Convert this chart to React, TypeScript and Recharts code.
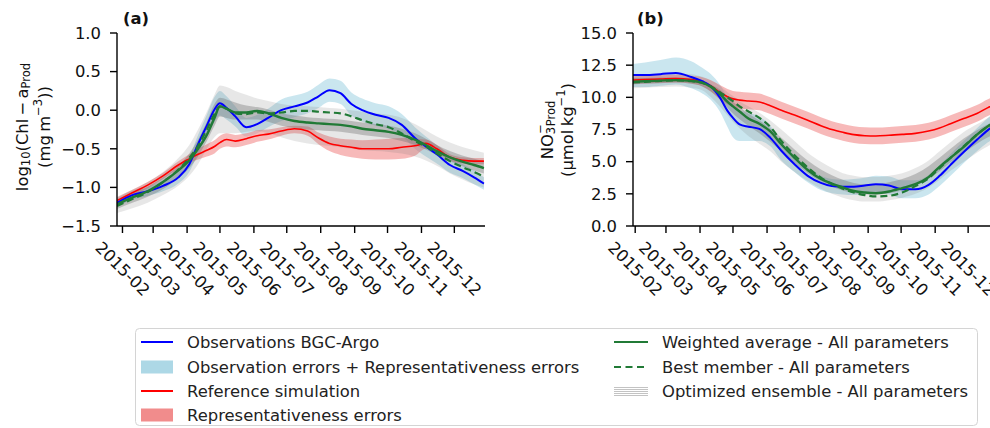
import React from "react";
import { ComposedChart, Line, Area, XAxis, YAxis } from "recharts";

const FONT = "'DejaVu Sans', 'Liberation Sans', sans-serif";
const FS = 16.4;

// Month tick labels shared by both panels
const monthTicks = [
  "2015-02", "2015-03", "2015-04", "2015-05", "2015-06", "2015-07",
  "2015-08", "2015-09", "2015-10", "2015-11", "2015-12",
];

// Sampling dates of the chlorophyll panel (a)
const datesChl = [
  "2015-01-27", "2015-02-10", "2015-02-24", "2015-03-10", "2015-03-24", "2015-04-03",
  "2015-04-11", "2015-04-19", "2015-04-26", "2015-05-01", "2015-05-07", "2015-05-15",
  "2015-05-25", "2015-06-04", "2015-06-14", "2015-06-26", "2015-07-08", "2015-07-20",
  "2015-07-30", "2015-08-09", "2015-08-19", "2015-08-29", "2015-09-08", "2015-09-20",
  "2015-10-02", "2015-10-14", "2015-10-26", "2015-11-05", "2015-11-15", "2015-11-27",
  "2015-12-09", "2015-12-19", "2015-12-28",
];

// Sampling dates of the nitrate panel (b)
const datesNo3 = [
  "2015-01-30", "2015-02-10", "2015-02-24", "2015-03-10", "2015-03-24", "2015-04-03",
  "2015-04-11", "2015-04-19", "2015-04-26", "2015-05-01", "2015-05-07", "2015-05-15",
  "2015-05-25", "2015-06-04", "2015-06-14", "2015-06-26", "2015-07-08", "2015-07-20",
  "2015-07-30", "2015-08-09", "2015-08-19", "2015-08-29", "2015-09-08", "2015-09-20",
  "2015-10-02", "2015-10-14", "2015-10-26", "2015-11-05", "2015-11-15", "2015-11-27",
  "2015-12-09", "2015-12-19", "2015-12-28",
];

// (a) log10 Chl-a
const chlObs = [-1.20, -1.10, -1.05, -0.98, -0.87, -0.70, -0.44, -0.20, 0.01, 0.09, 0.03, -0.08, -0.22, -0.18, -0.10, 0.00, 0.05, 0.10, 0.18, 0.26, 0.22, 0.08, 0.00, -0.06, -0.10, -0.19, -0.36, -0.47, -0.57, -0.71, -0.79, -0.87, -0.95];
const chlObsLo = [-1.25, -1.16, -1.11, -1.05, -0.95, -0.80, -0.56, -0.34, -0.15, -0.07, -0.12, -0.21, -0.34, -0.30, -0.22, -0.14, -0.09, -0.04, 0.03, 0.11, 0.08, -0.07, -0.15, -0.20, -0.24, -0.33, -0.50, -0.60, -0.69, -0.81, -0.88, -0.96, -1.03];
const chlObsHi = [-1.15, -1.04, -0.99, -0.91, -0.79, -0.60, -0.32, -0.06, 0.17, 0.25, 0.18, 0.05, -0.10, -0.06, 0.02, 0.14, 0.19, 0.24, 0.33, 0.41, 0.38, 0.23, 0.15, 0.09, 0.05, -0.05, -0.22, -0.34, -0.45, -0.61, -0.70, -0.78, -0.87];
const chlRef = [-1.17, -1.07, -0.97, -0.85, -0.71, -0.63, -0.57, -0.52, -0.47, -0.42, -0.38, -0.40, -0.37, -0.33, -0.31, -0.27, -0.24, -0.27, -0.36, -0.43, -0.46, -0.48, -0.50, -0.50, -0.50, -0.48, -0.46, -0.43, -0.50, -0.61, -0.65, -0.66, -0.66];
const chlRefLo = [-1.21, -1.11, -1.01, -0.89, -0.76, -0.68, -0.64, -0.60, -0.56, -0.50, -0.47, -0.48, -0.45, -0.41, -0.38, -0.33, -0.30, -0.33, -0.44, -0.53, -0.58, -0.61, -0.63, -0.64, -0.64, -0.63, -0.59, -0.50, -0.55, -0.65, -0.69, -0.70, -0.70];
const chlRefHi = [-1.13, -1.03, -0.93, -0.81, -0.66, -0.57, -0.50, -0.44, -0.39, -0.33, -0.30, -0.32, -0.30, -0.26, -0.25, -0.22, -0.20, -0.21, -0.29, -0.34, -0.37, -0.38, -0.39, -0.38, -0.37, -0.36, -0.37, -0.38, -0.45, -0.57, -0.61, -0.62, -0.62];
const chlWeighted = [-1.22, -1.13, -1.05, -0.93, -0.78, -0.65, -0.50, -0.32, -0.10, 0.05, 0.02, -0.03, -0.03, -0.01, -0.04, -0.10, -0.14, -0.16, -0.17, -0.18, -0.19, -0.21, -0.24, -0.26, -0.28, -0.32, -0.38, -0.45, -0.53, -0.61, -0.67, -0.71, -0.75];
const chlBest = [-1.24, -1.15, -1.06, -0.93, -0.77, -0.62, -0.46, -0.25, -0.05, 0.05, 0.02, -0.04, -0.05, -0.03, -0.04, -0.03, -0.01, -0.01, -0.02, -0.03, -0.04, -0.08, -0.13, -0.18, -0.22, -0.30, -0.40, -0.47, -0.56, -0.66, -0.74, -0.80, -0.86];
const chlEnsOuterLo = [-1.33, -1.27, -1.20, -1.10, -0.98, -0.85, -0.70, -0.50, -0.35, -0.30, -0.30, -0.30, -0.28, -0.27, -0.30, -0.35, -0.40, -0.43, -0.45, -0.46, -0.48, -0.50, -0.52, -0.53, -0.54, -0.56, -0.60, -0.65, -0.72, -0.82, -0.90, -0.96, -1.00];
const chlEnsOuterHi = [-1.12, -1.03, -0.93, -0.80, -0.62, -0.45, -0.25, -0.02, 0.20, 0.32, 0.30, 0.25, 0.20, 0.15, 0.12, 0.08, 0.06, 0.05, 0.04, 0.03, 0.02, 0.00, -0.02, -0.04, -0.06, -0.10, -0.18, -0.26, -0.34, -0.42, -0.48, -0.52, -0.55];
const chlEnsInnerLo = [-1.28, -1.20, -1.12, -1.02, -0.88, -0.75, -0.60, -0.40, -0.20, -0.08, -0.10, -0.12, -0.12, -0.12, -0.15, -0.20, -0.23, -0.25, -0.26, -0.27, -0.28, -0.30, -0.32, -0.34, -0.36, -0.40, -0.45, -0.51, -0.58, -0.66, -0.73, -0.78, -0.82];
const chlEnsInnerHi = [-1.17, -1.08, -0.99, -0.87, -0.72, -0.56, -0.38, -0.15, 0.08, 0.16, 0.14, 0.10, 0.06, 0.04, 0.01, -0.04, -0.07, -0.09, -0.10, -0.11, -0.12, -0.14, -0.16, -0.18, -0.20, -0.24, -0.30, -0.37, -0.45, -0.53, -0.59, -0.63, -0.66];

// (b) nitrate
const no3Obs = [11.73, 11.73, 11.80, 11.90, 11.58, 11.25, 10.85, 10.00, 8.95, 8.40, 7.90, 7.72, 7.55, 6.85, 5.85, 4.80, 3.90, 3.35, 3.10, 3.05, 3.05, 3.15, 3.25, 3.15, 2.85, 2.85, 3.20, 3.90, 4.75, 5.75, 6.70, 7.45, 8.00];
const no3ObsLo = [10.8, 10.8, 10.9, 11.0, 10.7, 10.3, 9.8, 8.9, 7.7, 6.9, 6.6, 6.6, 6.6, 6.2, 5.1, 4.2, 3.4, 2.8, 2.55, 2.45, 2.4, 2.5, 2.55, 2.45, 2.15, 2.15, 2.45, 3.1, 3.9, 4.9, 5.8, 6.5, 7.0];
const no3ObsHi = [12.6, 12.7, 12.9, 13.1, 12.8, 12.3, 11.8, 11.0, 10.0, 9.4, 9.0, 8.8, 8.5, 7.8, 6.5, 5.5, 4.6, 3.9, 3.65, 3.6, 3.65, 3.75, 3.9, 3.85, 3.55, 3.55, 3.95, 4.7, 5.6, 6.6, 7.6, 8.4, 9.0];
const no3Ref = [11.34, 11.38, 11.42, 11.46, 11.38, 11.22, 10.88, 10.40, 10.05, 9.88, 9.78, 9.72, 9.64, 9.35, 9.00, 8.62, 8.22, 7.80, 7.50, 7.28, 7.10, 7.02, 7.00, 7.05, 7.12, 7.20, 7.38, 7.62, 7.95, 8.35, 8.75, 9.20, 9.50];
const no3RefLo = [11.04, 11.08, 11.12, 11.16, 11.08, 10.87, 10.43, 9.85, 9.45, 9.26, 9.13, 9.07, 8.99, 8.70, 8.35, 7.97, 7.57, 7.15, 6.85, 6.63, 6.45, 6.37, 6.35, 6.40, 6.47, 6.55, 6.73, 6.97, 7.30, 7.70, 8.10, 8.55, 8.85];
const no3RefHi = [11.64, 11.68, 11.72, 11.76, 11.68, 11.57, 11.33, 10.95, 10.65, 10.50, 10.43, 10.37, 10.29, 10.00, 9.65, 9.27, 8.87, 8.45, 8.15, 7.93, 7.75, 7.67, 7.65, 7.70, 7.77, 7.85, 8.03, 8.27, 8.60, 9.00, 9.40, 9.85, 10.15];
const no3Weighted = [11.21, 11.25, 11.30, 11.34, 11.28, 11.15, 10.80, 10.27, 9.65, 9.30, 8.90, 8.35, 7.95, 7.35, 6.35, 5.30, 4.35, 3.65, 3.30, 3.00, 2.72, 2.60, 2.55, 2.68, 2.95, 3.25, 3.80, 4.60, 5.30, 6.15, 7.10, 7.75, 8.20];
const no3Best = [11.15, 11.20, 11.28, 11.32, 11.25, 11.12, 10.85, 10.40, 10.00, 9.70, 9.30, 8.90, 8.40, 7.70, 6.60, 5.50, 4.55, 3.75, 3.25, 2.90, 2.60, 2.40, 2.30, 2.35, 2.60, 3.10, 3.70, 4.50, 5.30, 6.20, 7.10, 7.75, 8.20];
const no3EnsOuterLo = [10.7, 10.75, 10.8, 10.85, 10.75, 10.55, 10.0, 9.3, 8.6, 8.1, 7.6, 7.0, 6.4, 5.8, 5.0, 4.2, 3.5, 2.9, 2.5, 2.2, 2.0, 1.9, 1.9, 2.0, 2.2, 2.5, 3.0, 3.6, 4.3, 5.0, 5.7, 6.2, 6.6];
const no3EnsOuterHi = [11.8, 11.8, 11.85, 11.85, 11.8, 11.6, 11.3, 10.9, 10.4, 10.1, 9.7, 9.3, 8.8, 8.2, 7.5, 6.6, 5.7, 5.0, 4.5, 4.1, 3.9, 3.8, 3.8, 3.9, 4.1, 4.5, 5.1, 5.8, 6.5, 7.3, 7.9, 8.4, 8.8];
const no3EnsInnerLo = [11.0, 11.05, 11.1, 11.15, 11.05, 10.85, 10.45, 9.85, 9.2, 8.75, 8.3, 7.8, 7.2, 6.55, 5.8, 4.9, 4.1, 3.45, 3.05, 2.75, 2.55, 2.45, 2.45, 2.55, 2.75, 3.1, 3.65, 4.25, 4.95, 5.7, 6.4, 6.9, 7.25];
const no3EnsInnerHi = [11.5, 11.5, 11.55, 11.55, 11.5, 11.35, 11.0, 10.6, 10.05, 9.65, 9.25, 8.75, 8.2, 7.6, 6.85, 5.95, 5.1, 4.4, 3.95, 3.6, 3.35, 3.25, 3.25, 3.4, 3.65, 4.05, 4.65, 5.3, 6.0, 6.8, 7.45, 7.9, 8.25];

const chlTicks = [-1.5, -1.0, -0.5, 0.0, 0.5, 1.0];
const no3Ticks = [0, 2.5, 5, 7.5, 10, 12.5, 15];

const COLORS = {
  obs: "#0000ff",
  obsBand: "#add8e6",
  ref: "#ff0000",
  refBand: "#f08080",
  green: "#217a36",
  ens: "#6e6e6e",
};

const dayOf = (s: string) =>
  Math.round((Date.parse(s) - Date.parse("2015-01-01")) / 86400000);

const tickDays = monthTicks.map((m) => dayOf(`${m}-01`));

type Series = {
  obs: number[]; obsLo: number[]; obsHi: number[];
  ref: number[]; refLo: number[]; refHi: number[];
  weighted: number[]; best: number[];
  outerLo: number[]; outerHi: number[]; innerLo: number[]; innerHi: number[];
};

function buildRows(dates: string[], s: Series) {
  return dates.map((d, i) => ({
    day: dayOf(d),
    ensOuter: [s.outerLo[i], s.outerHi[i]],
    ensInner: [s.innerLo[i], s.innerHi[i]],
    obsBand: [s.obsLo[i], s.obsHi[i]],
    refBand: [s.refLo[i], s.refHi[i]],
    obs: s.obs[i],
    ref: s.ref[i],
    weighted: s.weighted[i],
    best: s.best[i],
  }));
}

const rowsChl = buildRows(datesChl, {
  obs: chlObs, obsLo: chlObsLo, obsHi: chlObsHi,
  ref: chlRef, refLo: chlRefLo, refHi: chlRefHi,
  weighted: chlWeighted, best: chlBest,
  outerLo: chlEnsOuterLo, outerHi: chlEnsOuterHi, innerLo: chlEnsInnerLo, innerHi: chlEnsInnerHi,
});

const rowsNo3 = buildRows(datesNo3, {
  obs: no3Obs, obsLo: no3ObsLo, obsHi: no3ObsHi,
  ref: no3Ref, refLo: no3RefLo, refHi: no3RefHi,
  weighted: no3Weighted, best: no3Best,
  outerLo: no3EnsOuterLo, outerHi: no3EnsOuterHi, innerLo: no3EnsInnerLo, innerHi: no3EnsInnerHi,
});

const fmtY = (v: number) => v.toFixed(1).replace("-", "\u2212");

function DateTick(props: any) {
  const { x, y, payload } = props;
  const idx = tickDays.indexOf(payload.value);
  const label = idx >= 0 ? monthTicks[idx] : "";
  const cy = y + 34;
  return (
    <text
      x={x}
      y={cy}
      transform={`rotate(45 ${x} ${cy})`}
      textAnchor="middle"
      dominantBaseline="central"
      fontSize={FS}
      fontFamily={FONT}
      fill="#111"
    >
      {label}
    </text>
  );
}

const axisStroke = { stroke: "#000", strokeWidth: 1.4 };

function Panel({
  rows, domain, yDomain, yTicks, width,
}: {
  rows: any[]; domain: [number, number]; yDomain: [number, number]; yTicks: number[]; width: number;
}) {
  return (
    <ComposedChart
      width={width}
      height={310}
      data={rows}
      margin={{ top: 33, right: 15, left: 0, bottom: 0 }}
    >
      <XAxis
        dataKey="day"
        type="number"
        domain={domain}
        allowDataOverflow
        ticks={tickDays}
        interval={0}
        tick={<DateTick />}
        tickSize={7}
        axisLine={axisStroke}
        tickLine={axisStroke}
        height={84}
      />
      <YAxis
        type="number"
        domain={yDomain}
        allowDataOverflow
        ticks={yTicks}
        interval={0}
        width={117}
        tickSize={7}
        tickMargin={9}
        tickFormatter={fmtY}
        tick={{ fill: "#111", fontSize: FS, fontFamily: FONT }}
        axisLine={axisStroke}
        tickLine={axisStroke}
      />
      <Area dataKey="obsBand" type="monotone" stroke="none" fill={COLORS.obsBand} fillOpacity={0.65} isAnimationActive={false} />
      <Area dataKey="refBand" type="monotone" stroke="none" fill={COLORS.refBand} fillOpacity={0.55} isAnimationActive={false} />
      <Area dataKey="ensOuter" type="monotone" stroke="none" fill={COLORS.ens} fillOpacity={0.17} isAnimationActive={false} />
      <Area dataKey="ensInner" type="monotone" stroke="none" fill={COLORS.ens} fillOpacity={0.36} isAnimationActive={false} />
      <Line dataKey="ref" type="monotone" stroke={COLORS.ref} strokeWidth={1.6} dot={false} isAnimationActive={false} />
      <Line dataKey="obs" type="monotone" stroke={COLORS.obs} strokeWidth={2} dot={false} isAnimationActive={false} />
      <Line dataKey="weighted" type="monotone" stroke={COLORS.green} strokeWidth={2.4} dot={false} isAnimationActive={false} />
      <Line dataKey="best" type="monotone" stroke={COLORS.green} strokeWidth={2.2} strokeDasharray="7 4" dot={false} isAnimationActive={false} />
    </ComposedChart>
  );
}

const SUB = 11.5;

function Legend() {
  const rowY = [342, 367, 391, 415];
  const x1 = 141, x2 = 173, t1 = 187;
  const c1 = 614, c2 = 648, t2 = 662;
  const txt = { fontSize: FS, fontFamily: FONT, fill: "#222", dominantBaseline: "central" as const };
  return (
    <g>
      <rect x={135.5} y={328.5} width={842} height={97} rx={4} fill="#fff" stroke="#d4d4d4" strokeWidth={1} />
      <line x1={x1} x2={x2} y1={rowY[0]} y2={rowY[0]} stroke={COLORS.obs} strokeWidth={2} />
      <text x={t1} y={rowY[0]} {...txt}>Observations BGC-Argo</text>
      <rect x={x1} y={rowY[1] - 6.5} width={x2 - x1} height={13} fill={COLORS.obsBand} />
      <text x={t1} y={rowY[1]} {...txt}>Observation errors + Representativeness errors</text>
      <line x1={x1} x2={x2} y1={rowY[2]} y2={rowY[2]} stroke={COLORS.ref} strokeWidth={2} />
      <text x={t1} y={rowY[2]} {...txt}>Reference simulation</text>
      <rect x={x1} y={rowY[3] - 6.5} width={x2 - x1} height={13} fill={COLORS.refBand} fillOpacity={0.9} />
      <text x={t1} y={rowY[3]} {...txt}>Representativeness errors</text>

      <line x1={c1} x2={c2} y1={rowY[0]} y2={rowY[0]} stroke={COLORS.green} strokeWidth={2.2} />
      <text x={t2} y={rowY[0]} {...txt}>Weighted average - All parameters</text>
      <line x1={c1} x2={c2} y1={rowY[1]} y2={rowY[1]} stroke={COLORS.green} strokeWidth={2.2} strokeDasharray="7 4.5" />
      <text x={t2} y={rowY[1]} {...txt}>Best member - All parameters</text>
      {[-4, -2, 0, 2, 4].map((d) => (
        <line key={d} x1={c1} x2={c2} y1={rowY[2] + d + 0.5} y2={rowY[2] + d + 0.5} stroke="#b4b4b4" strokeWidth={0.8} />
      ))}
      <text x={t2} y={rowY[2]} {...txt}>Optimized ensemble - All parameters</text>
    </g>
  );
}

function Labels() {
  const base = { fontSize: FS, fontFamily: FONT, fill: "#111", textAnchor: "middle" as const, dominantBaseline: "central" as const };
  return (
    <g>
      <text x={123} y={24} fontSize={FS} fontFamily={FONT} fontWeight="bold" fill="#111">(a)</text>
      <text x={637} y={24} fontSize={FS} fontFamily={FONT} fontWeight="bold" fill="#111">(b)</text>

      <text transform="translate(22,127) rotate(-90)" {...base}>
        log<tspan dy={4} fontSize={SUB}>10</tspan>
        <tspan dy={-4}>(Chl{"\u2009\u2212\u2009"}a</tspan>
        <tspan dy={4} fontSize={SUB}>Prod</tspan>
      </text>
      <text transform="translate(44,127) rotate(-90)" {...base}>
        (mg{"\u2009"}m<tspan dy={-6} fontSize={SUB}>{"\u22123"}</tspan>
        <tspan dy={6}>))</tspan>
      </text>

      <text transform="translate(547,130) rotate(-90)" {...base}>
        NO<tspan dy={4} fontSize={SUB}>3</tspan>
        <tspan dx={-7} dy={-11} fontSize={SUB}>{"\u2212"}</tspan>
        <tspan dx={-2} dy={11} fontSize={SUB}>Prod</tspan>
      </text>
      <text transform="translate(567,130) rotate(-90)" {...base}>
        ({"\u00b5"}mol{"\u2009"}kg<tspan dy={-6} fontSize={SUB}>{"\u22121"}</tspan>
        <tspan dy={6}>)</tspan>
      </text>
    </g>
  );
}

export default function App() {
  return (
    <div
      style={{
        position: "absolute",
        left: 0,
        top: 0,
        width: 990,
        height: 428,
        overflow: "hidden",
        background: "#fff",
        fontFamily: FONT,
      }}
    >
      <div style={{ position: "absolute", left: 0, top: 0 }}>
        <Panel rows={rowsChl} domain={[26, 362]} yDomain={[-1.5, 1]} yTicks={chlTicks} width={500} />
      </div>
      <div style={{ position: "absolute", left: 516, top: 0 }}>
        <Panel rows={rowsNo3} domain={[29, 363]} yDomain={[0, 15]} yTicks={no3Ticks} width={499} />
      </div>
      <svg
        width={990}
        height={428}
        style={{ position: "absolute", left: 0, top: 0, pointerEvents: "none" }}
      >
        <Labels />
        <Legend />
      </svg>
    </div>
  );
}
